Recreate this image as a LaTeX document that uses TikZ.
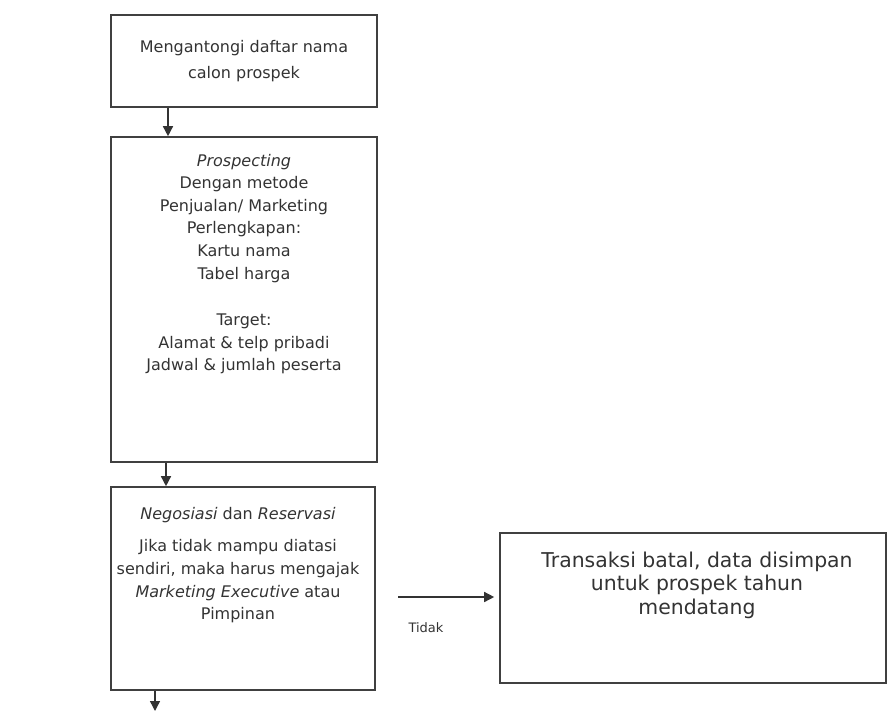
\documentclass[tikz,border=0pt]{standalone}
\usepackage{fontspec}
\setmainfont{DejaVu Sans}
\usetikzlibrary{arrows.meta,positioning}

\tikzset{
  kotak/.style={draw=black!75, line width=0.8pt},
  isi/.style={align=center, text=black!80, font=\fontsize{8}{11.3}\selectfont},
  panah/.style={draw=black!80, line width=0.7pt, -{Triangle[length=5pt,width=5pt]}},
}

\begin{document}
\begin{tikzpicture}[x=0.5pt,y=-0.5pt]
\useasboundingbox (0,0) rectangle (888,712);
% kotak-kotak alur
\node[kotak, isi, minimum width=133pt, minimum height=46pt] (mulai) at (244,61) {Mengantongi daftar nama\\[1.5pt]calon prospek};
\node[kotak, minimum width=133pt, minimum height=162.5pt] (prosp) at (244,299.5) {};
\node[kotak, minimum width=132pt, minimum height=101.5pt] (nego) at (243,588.5) {};
\node[kotak, minimum width=193pt, minimum height=75pt] (batal) at (693,608) {};

% isi kotak
\node[isi] (prospisi) at (244,264) {\textit{Prospecting}\\Dengan metode\\Penjualan/ Marketing\\Perlengkapan:\\Kartu nama\\Tabel harga\\[12pt]Target:\\Alamat \& telp pribadi\\Jadwal \& jumlah peserta};
\node[isi] (negoisi) at (238,565) {\textit{Negosiasi} dan \textit{Reservasi}\\[5pt]Jika tidak mampu diatasi\\sendiri, maka harus mengajak\\\textit{Marketing Executive} atau\\Pimpinan};
\node[isi, font=\fontsize{10.2}{11.7}\selectfont] (batalisi) at (697,585) {Transaksi batal, data disimpan\\untuk prospek tahun\\mendatang};
\node[isi, font=\fontsize{6.5}{8}\selectfont] (tidak) at (426,628) {Tidak};

% panah
\coordinate (lanjut) at (155,711);
\coordinate (tidakawal) at (398,597);
\draw[panah] ([xshift=-38pt]mulai.south) -- ([xshift=-38pt]prosp.north);
\draw[panah] ([xshift=-39pt]prosp.south) -- ([xshift=-39pt]prosp.south |- nego.north);
\draw[panah] (nego.south -| lanjut) -- (lanjut);
\draw[panah, shorten >=2.5pt] (tidakawal) -- (tidakawal -| batal.west);
\end{tikzpicture}
\end{document}
